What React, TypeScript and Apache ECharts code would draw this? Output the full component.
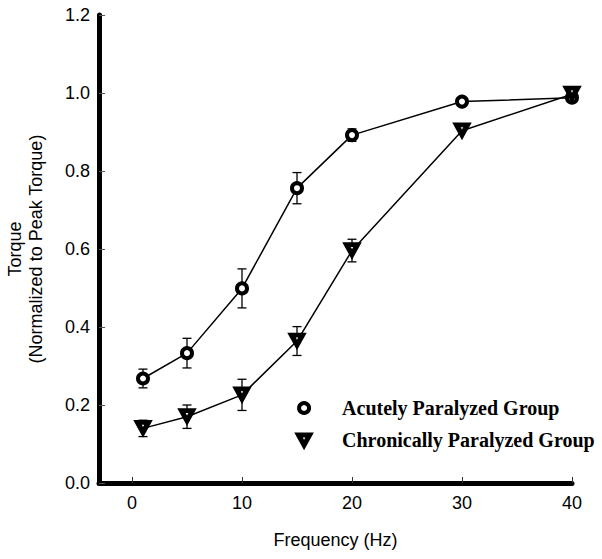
import React, { useEffect, useRef } from "react";
import * as echarts from "echarts";

const frequencies = [1, 5, 10, 15, 20, 30, 40];
const acuteValues = [0.268, 0.333, 0.499, 0.756, 0.892, 0.978, 0.988];
const acuteErrors = [0.024, 0.038, 0.05, 0.04, 0.016, 0, 0];
const chronicValues = [0.14, 0.17, 0.226, 0.364, 0.596, 0.903, 0.997];
const chronicErrors = [0.021, 0.03, 0.04, 0.037, 0.029, 0, 0];
const xTickValues = [0, 10, 20, 30, 40];
const seriesNames = ["Acutely Paralyzed Group", "Chronically Paralyzed Group"];

const SANS = "'Liberation Sans', Arial, sans-serif";
const SERIF = "'Liberation Serif', 'Times New Roman', serif";
const TRI = "path://M0,0 L10,0 L5,9 Z";

function errorData(values: number[], errors: number[]) {
  const out: number[][] = [];
  frequencies.forEach((f, i) => {
    if (errors[i] > 0) out.push([f, values[i] - errors[i], values[i] + errors[i]]);
  });
  return out;
}

function renderErrorBar(params: any, api: any) {
  const x = api.value(0);
  const lo = api.coord([x, api.value(1)]);
  const hi = api.coord([x, api.value(2)]);
  const cap = 4.5;
  const style = { stroke: "#000", lineWidth: 1.3 };
  return {
    type: "group",
    children: [
      { type: "line", shape: { x1: lo[0], y1: lo[1], x2: hi[0], y2: hi[1] }, style },
      { type: "line", shape: { x1: hi[0] - cap, y1: hi[1], x2: hi[0] + cap, y2: hi[1] }, style },
      { type: "line", shape: { x1: lo[0] - cap, y1: lo[1], x2: lo[0] + cap, y2: lo[1] }, style },
    ],
  };
}

export default function App() {
  const ref = useRef<HTMLDivElement>(null);
  useEffect(() => {
    if (!ref.current) return;
    const chart = echarts.init(ref.current, null, { renderer: "svg" });
    const circleStyle = { color: "#fff", borderColor: "#000", borderWidth: 4 };
    const triStyle = { color: "#fff", borderColor: "#000", borderWidth: 5 };
    chart.setOption({
      animation: false,
      backgroundColor: "#fff",
      grid: { left: 99, right: 30, top: 15, bottom: 76, containLabel: false, outerBoundsMode: "none" },
      legend: {
        orient: "vertical",
        left: 291,
        top: 392,
        itemWidth: 66,
        itemHeight: 10,
        itemGap: 10,
        selectedMode: false,
        textStyle: { fontFamily: SERIF, fontWeight: "bold", fontSize: 20, color: "#000", lineHeight: 22 },
        data: [
          { name: seriesNames[0], icon: "circle", itemStyle: circleStyle },
          { name: seriesNames[1], icon: TRI, itemStyle: triStyle },
        ],
      },
      xAxis: {
        type: "value",
        min: -3,
        max: 40,
        name: "Frequency (Hz)",
        nameLocation: "middle",
        nameGap: 48,
        nameTextStyle: { fontFamily: SANS, fontSize: 18, color: "#000" },
        axisLine: { show: true, onZero: false, lineStyle: { color: "#000", width: 5 } },
        axisTick: { show: true, inside: true, length: 6, customValues: xTickValues, lineStyle: { color: "#333", width: 1 } },
        axisLabel: { customValues: xTickValues, margin: 11, fontFamily: SANS, fontSize: 18, color: "#000" },
        splitLine: { show: false },
      },
      yAxis: {
        type: "value",
        min: 0,
        max: 1.2,
        interval: 0.2,
        name: "Torque\n(Normalized to Peak Torque)",
        nameLocation: "middle",
        nameRotate: 90,
        nameGap: 53,
        nameTextStyle: { fontFamily: SANS, fontSize: 18, color: "#000", lineHeight: 21 },
        axisLine: { show: true, onZero: false, lineStyle: { color: "#000", width: 5 } },
        axisTick: { show: true, inside: true, length: 6, lineStyle: { color: "#555", width: 1 } },
        axisLabel: { margin: 9, fontFamily: SANS, fontSize: 18, color: "#000", formatter: (v: number) => v.toFixed(1) },
        splitLine: { show: false },
      },
      series: [
        {
          type: "custom",
          name: "acuteErr",
          renderItem: renderErrorBar,
          data: errorData(acuteValues, acuteErrors),
          z: 1,
          silent: true,
        },
        {
          type: "custom",
          name: "chronicErr",
          renderItem: renderErrorBar,
          data: errorData(chronicValues, chronicErrors),
          z: 1,
          silent: true,
        },
        {
          type: "line",
          name: seriesNames[0],
          data: frequencies.map((f, i) => [f, acuteValues[i]]),
          symbol: "circle",
          symbolSize: 10,
          showAllSymbol: true,
          lineStyle: { color: "#000", width: 1.5 },
          itemStyle: circleStyle,
          z: 3,
        },
        {
          type: "line",
          name: seriesNames[1],
          data: frequencies.map((f, i) => [f, chronicValues[i]]),
          symbol: TRI,
          symbolSize: [11, 10],
          symbolOffset: [0, -1],
          showAllSymbol: true,
          lineStyle: { color: "#000", width: 1.5 },
          itemStyle: triStyle,
          z: 3,
        },
      ],
    });
    return () => chart.dispose();
  }, []);
  return (
    <div
      ref={ref}
      style={{ position: "fixed", left: 0, top: 0, width: 602, height: 559, background: "#fff" }}
    />
  );
}
